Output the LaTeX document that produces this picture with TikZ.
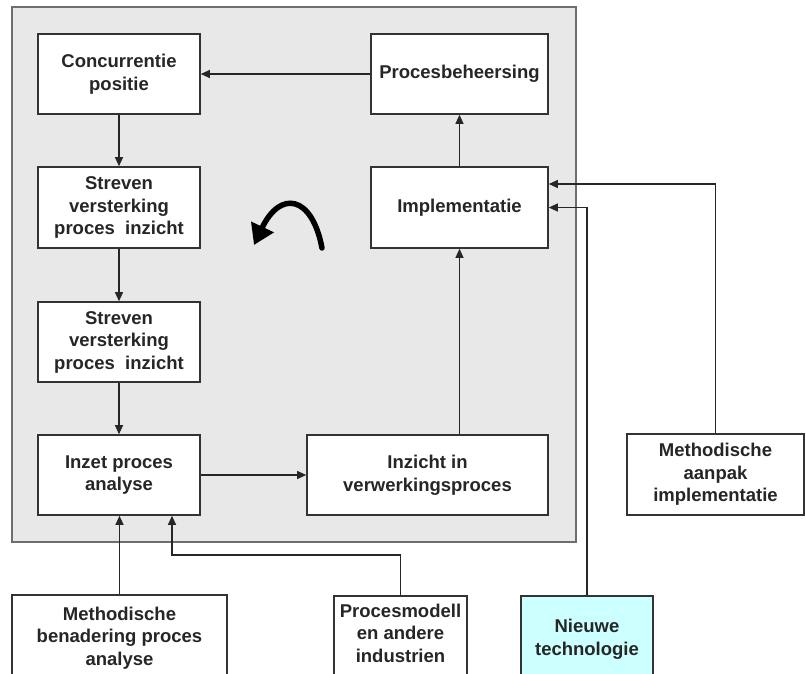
\documentclass[tikz,border=0pt]{standalone}
\usepackage{fontspec}
\setmainfont{Liberation Sans}
\usetikzlibrary{arrows.meta,calc}
\definecolor{panel}{HTML}{E8E8E8}
\definecolor{panelline}{HTML}{6E6E6E}
\definecolor{boxline}{HTML}{333333}
\definecolor{cyanfill}{HTML}{CCFFFF}
\begin{document}
\begin{tikzpicture}[x=1pt,y=-1pt,
  txt/.style={align=center, inner sep=0pt, font=\fontsize{18.5}{22.5}\selectfont\bfseries, text=black!85},
  blk/.style={txt, draw=boxline, line width=1.6pt, fill=white},
  arr/.style={draw=black!85, line width=1.1pt, -{Triangle[length=9pt,width=8pt]}},
  bigarrow/.style={draw=black, line width=5.5pt, line cap=round, -{Triangle[length=20pt,width=24pt]}}
]
\useasboundingbox (0,0) rectangle (806,673);
% panel
\draw[fill=panel, draw=panelline, line width=1.8pt] (12,7) rectangle (576,542);

% boxes inside panel
\node[blk, minimum width=162pt, minimum height=80pt] (conc) at (119,74) {Concurrentie\\positie};
\node[blk, minimum width=177pt, minimum height=80pt] (proc) at (459.5,74) {Procesbeheersing};
\node[blk, minimum width=162pt, minimum height=81pt] (str1) at (119,207.5) {Streven\\versterking\\proces\ \ inzicht};
\node[blk, minimum width=177pt, minimum height=81pt] (impl) at (459.5,207.5) {Implementatie};
\node[blk, minimum width=162pt, minimum height=80pt] (str2) at (119,342) {Streven\\versterking\\proces\ \ inzicht};
\node[blk, minimum width=162pt, minimum height=80pt] (inzet) at (119,475) {Inzet proces\\analyse};
\node[blk, minimum width=241pt, minimum height=80pt] (inzicht) at (427.5,475) {Inzicht in\\verwerkingsproces};

% right box
\node[blk, minimum width=177pt, minimum height=81pt] (aanpak) at (715.5,474.5) {Methodische\\aanpak\\implementatie};

% bottom boxes (extend beyond the lower edge)
\node[blk, minimum width=215pt, minimum height=110pt, anchor=north] (mben) at (119.5,594) {};
\node[txt] (mbenT) at (119.5,638) {Methodische\\benadering proces\\analyse};
\node[blk, minimum width=133pt, minimum height=110pt, anchor=north] (pmod) at (400.5,595) {};
\node[txt] (pmodT) at (400.5,633) {Procesmodell\\en andere\\industrien};
\node[blk, fill=cyanfill, minimum width=132pt, minimum height=110pt, anchor=north] (nieuw) at (587,595) {};
\node[txt] (nieuwT) at (587,639) {Nieuwe\\technologie};

% connectors
\draw[arr] (proc.west) -- (conc.east);
\draw[arr] (conc.south) -- (str1.north);
\draw[arr] (str1.south) -- (str2.north);
\draw[arr] (str2.south) -- (inzet.north);
\draw[arr] (inzet.east) -- (inzicht.west);
\draw[arr] (impl.south |- inzicht.north) -- (impl.south);
\draw[arr] (impl.north) -- (proc.south);
\draw[arr] (mben.north) -- (mben.north |- inzet.south);
\coordinate (pmc) at (172,555);
\draw[arr] (pmod.north) |- (pmc) -- (pmc |- inzet.south);
\draw[arr] (nieuw.north) |- (impl.east);
\draw[arr] (aanpak.north) |- ([yshift=23.5pt]impl.east);

% cycle arrow
\coordinate (cs) at (322,248);
\coordinate (ce) at (254,245);
\draw[bigarrow] (cs) .. controls (312,195) and (280,190) .. (ce);
\end{tikzpicture}
\end{document}
